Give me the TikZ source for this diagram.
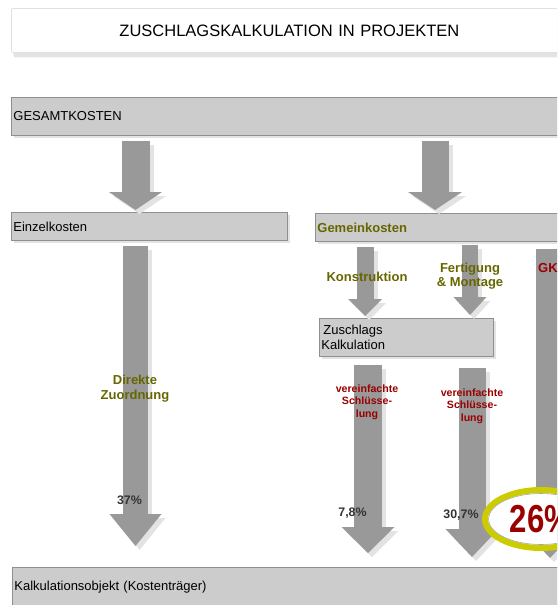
\documentclass[tikz,border=0pt]{standalone}
\usepackage{fontspec}
\setmainfont{Liberation Sans}
\usepackage{graphicx}
\usetikzlibrary{arrows.meta,calc,shapes.geometric,shadows}

\definecolor{boxfill}{HTML}{CCCCCC}
\definecolor{boxline}{HTML}{8F8F8F}
\definecolor{arrowgray}{HTML}{999999}
\definecolor{shade}{HTML}{E3E3E3}
\definecolor{titleline}{HTML}{E0E0E0}
\definecolor{labelolive}{HTML}{666600}
\definecolor{labelred}{HTML}{990000}
\definecolor{pctgray}{HTML}{333333}
\definecolor{ring}{HTML}{CCCC00}

\tikzset{
  box/.style={draw=boxline, fill=boxfill, line width=0.8pt, anchor=north west,
    inner xsep=2pt, inner ysep=0pt, align=left, font=\fontsize{13}{15}\selectfont,
    drop shadow={shadow xshift=3pt, shadow yshift=-3pt, fill=shade, opacity=1}},
  titlebox/.style={draw=titleline, fill=white, line width=0.8pt, rounded corners=2pt,
    anchor=north west, inner xsep=2pt, inner ysep=0pt, align=center,
    font=\fontsize{16.5}{18}\selectfont,
    drop shadow={shadow xshift=2pt, shadow yshift=-5pt, fill=shade, opacity=1}},
  olivelabel/.style={text=labelolive, align=center, inner sep=0pt,
    font=\fontsize{13}{15}\selectfont\bfseries},
  redlabel/.style={text=labelred, align=center, inner sep=0pt,
    font=\fontsize{10.6}{12.5}\selectfont\bfseries},
  pctlabel/.style={text=pctgray, inner sep=0pt, font=\fontsize{12.4}{14}\selectfont\bfseries},
  blockarrow/.style n args={3}{line width=#1,
    -{Triangle[width=#2, length=#3, line width=0pt]}},
  arrowshade/.style={draw=shade, transform canvas={xshift=4pt, yshift=-4pt}},
}

% block arrow with its shadow: from, to, shaft, head width, head length
\newcommand{\bigarrow}[5]{%
  \draw[blockarrow={#3}{#4}{#5}, arrowshade] #1 -- #2;
  \draw[blockarrow={#3}{#4}{#5}, draw=arrowgray] #1 -- #2;}

\begin{document}
\begin{tikzpicture}[x=1pt, y=-1pt]
    \useasboundingbox (0,0) rectangle (557,605);
    \clip (0,0) rectangle (557,605);

    \node[titlebox, text width=552pt, minimum height=44pt] (title) at (11,8) {ZUSCHLAGSKALKULATION IN PROJEKTEN};
    \node[box, text width=600pt, minimum height=38pt] (gesamt) at (11,97) {GESAMTKOSTEN};
    \node[box, text width=272pt, minimum height=28pt] (einzel) at (11,212) {Einzelkosten};
    \node[box, text width=300pt, minimum height=28pt, text=labelolive,
      font=\fontsize{13}{15}\selectfont\bfseries] (gemein) at (315,213) {Gemeinkosten};
    \node[box, text width=170pt, minimum height=38pt] (zuschlag) at (319,318) {\hspace*{2pt}Zuschlags\\Kalkulation};
    \node[box, text width=600pt, minimum height=40pt] (kalk) at (12,567) {Kalkulationsobjekt (Kostenträger)};

    \coordinate (cA) at (135.5,0);
    \coordinate (cB) at (435,0);
    \coordinate (cK) at (365,0);
    \coordinate (cF) at (470,0);
    \coordinate (cL) at (368,0);
    \coordinate (cR) at (472,0);
    \coordinate (cG) at (550,0);

    %%%%%%%%%%%%%%%%%%%%%%%%%%%%%%%%%%%%%%%%

    \bigarrow{($(gesamt.south -| cA)+(0,5)$)}{($(einzel.north -| cA)+(0,-2)$)}{28pt}{53pt}{18pt}
    \bigarrow{($(gesamt.south -| cB)+(0,5)$)}{($(gemein.north -| cB)+(0,-3)$)}{27pt}{54pt}{18pt}
    \bigarrow{($(einzel.south -| cA)+(0,5)$)}{($(kalk.north -| cA)+(0,-21)$)}{25pt}{52pt}{32pt}
    \bigarrow{($(gemein.south -| cK)+(0,5)$)}{($(zuschlag.north -| cK)+(0,-2)$)}{17pt}{34pt}{17pt}
    \bigarrow{($(gemein.south -| cF)+(0,3)$)}{($(zuschlag.north -| cF)+(0,-3)$)}{16pt}{33pt}{18pt}
    \bigarrow{($(gemein.south -| cG)+(0,7)$)}{($(kalk.north -| cG)+(0,-9)$)}{28pt}{53pt}{28pt}
    \bigarrow{($(zuschlag.south -| cL)+(0,8)$)}{($(kalk.north -| cL)+(0,-14)$)}{28pt}{53pt}{26pt}
    \bigarrow{($(zuschlag.south -| cR)+(0,11)$)}{($(kalk.north -| cR)+(0,-10)$)}{27pt}{53pt}{28pt}

    \node[olivelabel] (direkt) at (135,388.5) {Direkte\\Zuordnung};
    \node[olivelabel] (konstr) at (367,277) {Konstruktion};
    \node[olivelabel, font=\fontsize{13}{14}\selectfont\bfseries] (fertig) at (470,276) {Fertigung\\\& Montage};
    \node[text=labelred, inner sep=0pt, anchor=west, font=\fontsize{13}{15}\selectfont\bfseries] (gk) at (538,268) {GK};
    \node[redlabel] (schluessel1) at (367,402) {vereinfachte\\Schlüsse-\\lung};
    \node[redlabel] (schluessel2) at (472,406) {vereinfachte\\Schlüsse-\\lung};

    \node[pctlabel] (p37) at (129.5,500) {37\%};
    \node[pctlabel] (p78) at (352.5,513) {7,8\%};
    \node[pctlabel] (p307) at (461,515) {30,7\%};

    \node[ellipse, draw=ring, line width=6pt, fill=white, minimum width=112pt,
      minimum height=58pt, inner sep=0pt, text=labelred,
      font=\fontsize{39}{39}\selectfont\bfseries] (gkanteil) at (541,519) {\scalebox{0.8}[1]{26\%}};
    \draw[gray!70, line width=0.6pt] (gkanteil.center) ellipse [x radius=52.5pt, y radius=25.5pt];

\end{tikzpicture}
\end{document}
